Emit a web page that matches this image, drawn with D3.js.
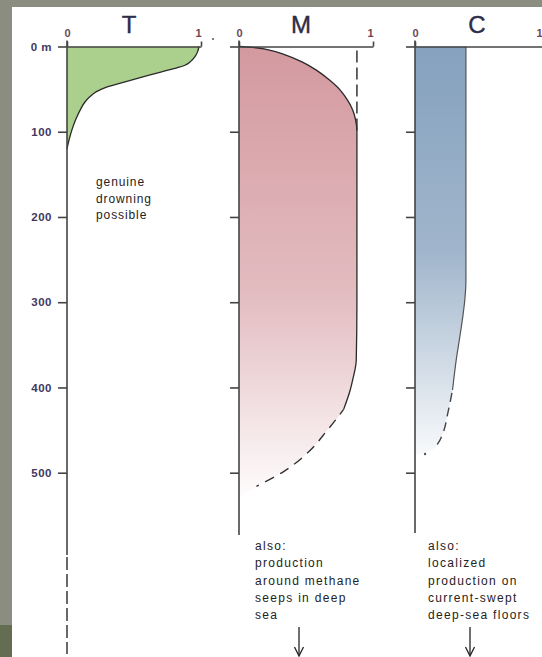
<!DOCTYPE html>
<html><head><meta charset="utf-8">
<script src="https://cdn.jsdelivr.net/npm/d3@7"></script>
<style>
body{margin:0;background:#8a8d7f;overflow:hidden}
svg{display:block}
text{font-family:"Liberation Sans",Arial,sans-serif}
</style>
</head><body>
<svg id="c" width="542" height="657"></svg>
<script>
// ---- data ----
const depthTicks = [0,100,200,300,400,500];
const depthTickLabels = ["0 m","100","200","300","400","500"];
const panelNames = ["T","M","C"];
const topTicks = [0,1];
const topTickLabels = ["0","1"];

const tDepth = [0,6,12,18,22,25,30,36,42,48,53,59,66,74,84,94,104,113,120];
const tValue = [0.985,0.975,0.955,0.92,0.88,0.82,0.70,0.56,0.42,0.29,0.22,0.17,0.13,0.10,0.07,0.045,0.025,0.01,0];

const mDepth = [0,1,4,10,18,28,40,52,63,75,86,100,200,300,368,390,403,426,450,477,499,516];
const mValue = [0,0.10,0.22,0.35,0.47,0.58,0.68,0.76,0.81,0.85,0.87,0.88,0.88,0.88,0.875,0.85,0.83,0.78,0.66,0.51,0.33,0.13];
const mSolidUntil = 440;
const mDashedRef = 0.88, mDashedRefEnd = 100;

const cDepth = [0,100,200,274,300,313,340,365,403,430,453,466,472];
const cValue = [0.38,0.38,0.38,0.38,0.37,0.36,0.335,0.31,0.28,0.245,0.21,0.17,0.14];
const cSolidUntil = 405;
const cDot = {depth:478, value:0.075};

const noteT = ["genuine","drowning","possible"];
const noteM = ["also:","production","around methane","seeps in deep","sea"];
const noteC = ["also:","localized","production on","current-swept","deep-sea floors"];

// ---- drawing ----
const svg = d3.select("#c");
svg.append("rect").attr("x",0).attr("y",0).attr("width",542).attr("height",657).attr("fill","#8a8d7f");
svg.append("rect").attr("x",0).attr("y",625).attr("width",12).attr("height",32).attr("fill","#646d52");
svg.append("rect").attr("x",12).attr("y",7).attr("width",530).attr("height",650).attr("fill","#ffffff");

const defs = svg.append("defs");
function grad(id, stops, y1, y2){
  const g = defs.append("linearGradient").attr("id",id).attr("gradientUnits","userSpaceOnUse")
    .attr("x1",0).attr("x2",0).attr("y1",y1).attr("y2",y2);
  stops.forEach(s=>g.append("stop").attr("offset",s[0]).attr("stop-color",s[1]));
}
grad("gm", [[0,"#d3999f"],[0.55,"#e3bdc1"],[1,"#ffffff"]], 46, 505);
grad("gc", [[0,"#85a1be"],[0.5,"#a1b6cc"],[1,"#fbfcfd"]], 46, 462);

const y = d3.scaleLinear().domain([0,500]).range([46.5,472.7]);
const xs = [
  d3.scaleLinear().domain([0,1]).range([67,201]),
  d3.scaleLinear().domain([0,1]).range([239,373]),
  d3.scaleLinear().domain([0,1]).range([415,549])
];
const axisBottoms = [555,535,533];
const axisColor = "#444";
const labelColor = "#3f3860";
const textColor = "#262222";

const zip = (ds,vs)=>ds.map((d,i)=>({depth:d,value:vs[i]}));
const tData = zip(tDepth,tValue), mData = zip(mDepth,mValue), cData = zip(cDepth,cValue);

function areaGen(x){
  return d3.area().curve(d3.curveMonotoneY).y(d=>y(d.depth)).x0(x(0)).x1(d=>x(d.value));
}
function lineGen(x){
  return d3.line().curve(d3.curveMonotoneY).y(d=>y(d.depth)).x(d=>x(d.value));
}

// fills
svg.append("path").datum(tData).attr("d",areaGen(xs[0])).attr("fill","#abcf8c");
svg.append("path").datum(mData.concat([{depth:530,value:0}])).attr("d",areaGen(xs[1])).attr("fill","url(#gm)");
svg.append("path").datum(cData.concat([{depth:480,value:0}])).attr("d",areaGen(xs[2])).attr("fill","url(#gc)");

// outlines
svg.append("path").datum(tData).attr("d",lineGen(xs[0])).attr("fill","none").attr("stroke","#2a2a2a").attr("stroke-width",1.3);

const mSolid = mData.filter(d=>d.depth<=mSolidUntil);
const mDash = mData.filter(d=>d.depth>=426);
svg.append("path").datum(mSolid).attr("d",lineGen(xs[1])).attr("fill","none").attr("stroke","#2a2a2a").attr("stroke-width",1.3);
svg.append("path").datum(mDash).attr("d",lineGen(xs[1])).attr("fill","none").attr("stroke","#333").attr("stroke-width",1.4).attr("stroke-dasharray","10,7").attr("stroke-dashoffset",4);
svg.append("line").attr("x1",xs[1](mDashedRef)).attr("x2",xs[1](mDashedRef)).attr("y1",y(0)+4).attr("y2",y(mDashedRefEnd))
  .attr("stroke","#333").attr("stroke-width",1.5).attr("stroke-dasharray","12,5");

const cSolid = cData.filter(d=>d.depth<=cSolidUntil);
const cDash = cData.filter(d=>d.depth>=403);
svg.append("path").datum(cSolid).attr("d",lineGen(xs[2])).attr("fill","none").attr("stroke","#555").attr("stroke-width",1.2);
svg.append("path").datum(cDash).attr("d",lineGen(xs[2])).attr("fill","none").attr("stroke","#444").attr("stroke-width",1.4).attr("stroke-dasharray","9,6").attr("stroke-dashoffset",-3);
svg.append("circle").attr("cx",xs[2](cDot.value)).attr("cy",y(cDot.depth)).attr("r",1.2).attr("fill","#555");

// axes
xs.forEach((x,i)=>{
  const ax = d3.axisLeft(y).tickValues(depthTicks).tickSizeInner(9).tickSizeOuter(0).tickPadding(6)
    .tickFormat((d,j)=> i===0 ? depthTickLabels[j] : "");
  const g = svg.append("g").attr("transform",`translate(${x(0)},0)`).call(ax);
  g.select(".domain").remove();
  g.selectAll(".tick line").attr("stroke",axisColor).attr("stroke-width",1.6);
  g.selectAll(".tick text").attr("fill",labelColor).style("font-size","11.5px").style("font-weight","bold")
    .style("letter-spacing","0.5px").attr("font-family","Liberation Sans, Arial, sans-serif");
  svg.append("line").attr("x1",x(0)).attr("x2",x(0)).attr("y1",y(0)-6).attr("y2",axisBottoms[i])
    .attr("stroke",axisColor).attr("stroke-width",1.6);
  const at = d3.axisTop(x).tickValues(topTicks).tickSizeInner(5).tickSizeOuter(0).tickPadding(5)
    .tickFormat((d,j)=>topTickLabels[j]);
  const gt = svg.append("g").attr("transform",`translate(0,${y(0)})`).call(at);
  gt.select(".domain").attr("stroke",axisColor).attr("stroke-width",1.6);
  gt.selectAll(".tick line").attr("stroke",axisColor).attr("stroke-width",1.6);
  gt.selectAll(".tick text").attr("fill","#6e4658").style("font-size","11px").style("font-weight","bold")
    .attr("font-family","Liberation Sans, Arial, sans-serif")
    .each(function(d){
      const t = d3.select(this);
      if (d===1){
        // keep the label inside the picture for the panel running off the right edge
        if (x(1) > 536) t.attr("text-anchor","end").attr("x", 542 - x(1));
        else t.attr("dx",-3);
      }
    });
  svg.append("text").attr("x",(x(0)+x(1))/2 - 5).attr("y",33).attr("text-anchor","middle")
    .attr("fill","#2e2d48").style("font-size","24px").attr("stroke","#2e2d48").attr("stroke-width",0.4)
    .text(panelNames[i]);
});

// dashed continuation of T axis
svg.append("line").attr("x1",xs[0](0)).attr("x2",xs[0](0)).attr("y1",557).attr("y2",654)
  .attr("stroke",axisColor).attr("stroke-width",1.6).attr("stroke-dasharray","13,4");

svg.append("circle").attr("cx",213).attr("cy",39).attr("r",1).attr("fill","#555");

// notes
function note(lines, x0, y0, dy, fs, ls){
  const t = svg.append("text").attr("fill",textColor).style("font-size",fs+"px").style("letter-spacing",ls+"px");
  lines.forEach((l,i)=>t.append("tspan").attr("x",x0).attr("y",y0+i*dy).text(l));
}
note(noteT, 96, 186, 16.5, 12, 0.9);
note(noteM, 255, 550, 17.3, 12, 1.3);
note(noteC, 428, 550, 17.3, 12, 1.3);

// arrows
function arrow(x0){
  svg.append("line").attr("x1",x0).attr("x2",x0).attr("y1",627).attr("y2",655).attr("stroke","#222").attr("stroke-width",1.3);
  svg.append("path").attr("d",`M${x0-4.5},${647}L${x0},${656}L${x0+4.5},${647}`).attr("fill","none").attr("stroke","#222").attr("stroke-width",1.3);
}
arrow(299);
arrow(470);
</script>
</body></html>
